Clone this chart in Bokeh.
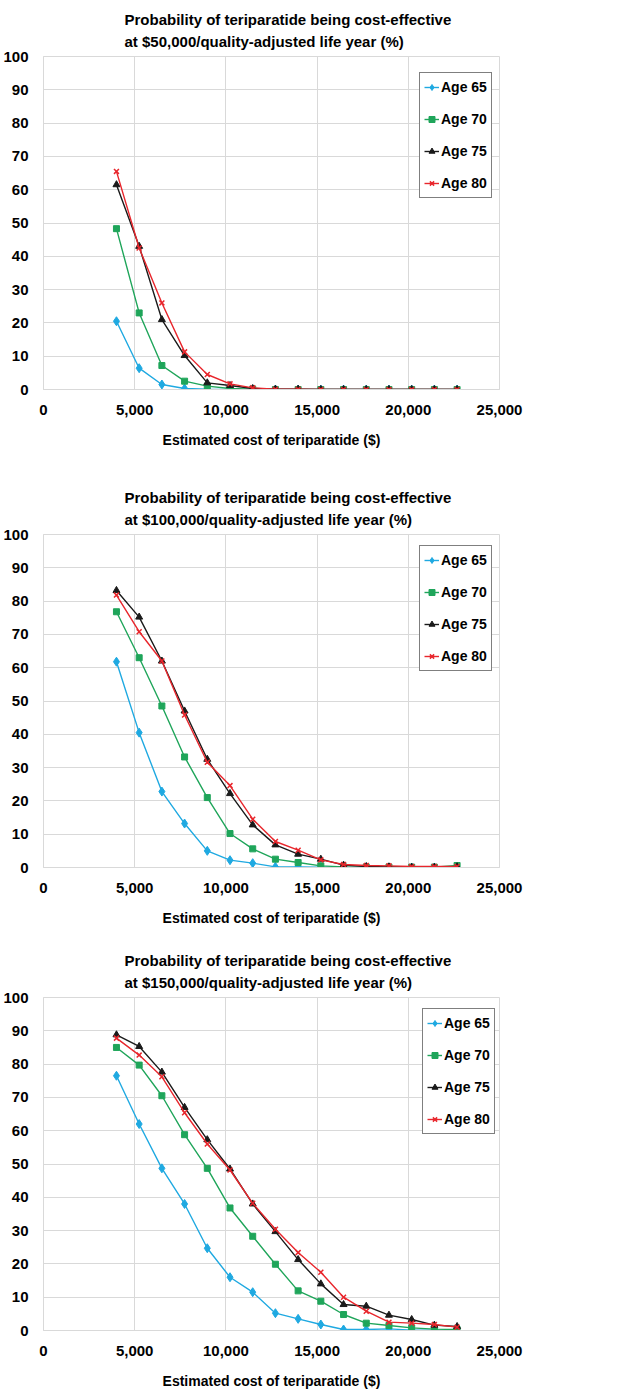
from bokeh.plotting import figure
from bokeh.layouts import column
from bokeh.models import (Title, Legend, LegendItem, NumeralTickFormatter,
                          SingleIntervalTicker, Range1d)
from bokeh.embed import file_html
from bokeh.resources import INLINE

# ---------------- data ----------------
cost = [4000, 5245, 6490, 7735, 8980, 10225, 11470, 12715, 13960, 15205,
        16450, 17695, 18940, 20185, 21430, 22675]
age_labels = ["Age 65", "Age 70", "Age 75", "Age 80"]
thresholds = ["$50,000", "$100,000", "$150,000"]

wtp50_age65 = [20.5, 6.4, 1.5, 0.3, 0.1, 0.0, 0.0, 0.0, 0.0, 0.0, 0.0, 0.0, 0.0, 0.0, 0.0, 0.0]
wtp50_age70 = [48.3, 23.0, 7.2, 2.5, 1.0, 0.3, 0.1, 0.0, 0.0, 0.0, 0.0, 0.0, 0.0, 0.0, 0.0, 0.0]
wtp50_age75 = [61.5, 43.0, 21.0, 10.2, 2.0, 1.2, 0.3, 0.1, 0.1, 0.0, 0.0, 0.0, 0.0, 0.0, 0.0, 0.0]
wtp50_age80 = [65.5, 42.5, 26.0, 11.3, 4.5, 1.7, 0.5, 0.1, 0.1, 0.0, 0.0, 0.0, 0.0, 0.0, 0.0, 0.0]

wtp100_age65 = [61.8, 40.5, 22.8, 13.2, 5.0, 2.2, 1.3, 0.2, 0.2, 0.1, 0.0, 0.0, 0.0, 0.0, 0.0, 0.0]
wtp100_age70 = [76.8, 63.0, 48.5, 33.2, 21.0, 10.2, 5.6, 2.5, 1.5, 0.5, 0.2, 0.1, 0.1, 0.1, 0.1, 0.6]
wtp100_age75 = [83.2, 75.2, 62.0, 47.0, 32.5, 22.2, 12.8, 6.8, 4.0, 2.5, 0.7, 0.3, 0.2, 0.1, 0.1, 0.2]
wtp100_age80 = [81.8, 70.8, 62.0, 45.8, 31.6, 24.6, 14.5, 7.8, 5.2, 2.3, 0.9, 0.6, 0.5, 0.3, 0.3, 0.3]

wtp150_age65 = [76.5, 62.0, 48.7, 38.0, 24.7, 16.0, 11.5, 5.2, 3.5, 1.8, 0.3, 0.3, 0.5, 0.1, 0.1, 0.1]
wtp150_age70 = [85.0, 79.7, 70.5, 58.8, 48.7, 36.8, 28.3, 19.9, 11.9, 8.8, 4.8, 2.2, 1.5, 0.8, 0.4, 0.3]
wtp150_age75 = [88.8, 85.3, 77.6, 67.0, 57.3, 48.5, 38.0, 29.7, 21.3, 14.0, 7.8, 7.3, 4.6, 3.3, 1.6, 1.2]
wtp150_age80 = [87.8, 82.7, 76.2, 65.4, 56.0, 48.2, 38.2, 30.4, 23.4, 17.5, 10.0, 5.8, 2.5, 2.2, 1.8, 1.0]

# ---------------- styling ----------------
FONT = "Liberation Sans"
colors = ["#1fa9e1", "#1fa55a", "#1a1a1a", "#e8262c"]
markers = ["diamond", "square", "triangle", "x"]
msizes = [9, 6, 7, 7]
GRID = "#d9d9d9"


def make_panel(threshold, series, top, bottom, legend_y, legend_x):
    p = figure(frame_width=456, frame_height=333,
               x_range=Range1d(0, 25000), y_range=Range1d(0, 100),
               output_backend="svg", toolbar_location=None,
               min_border_left=35, min_border_right=40,
               min_border_top=top, min_border_bottom=bottom)
    p.outline_line_color = GRID
    p.background_fill_color = "white"
    p.border_fill_color = "white"

    title = Title(text="Probability of teriparatide being cost-effective\n"
                       "at " + threshold + "/quality-adjusted life year (%)",
                  align="left", offset=81, text_font=FONT, text_font_size="15px",
                  text_font_style="bold", text_color="black", standoff=12,
                  text_line_height=1.35)
    p.add_layout(title, "above")

    p.xaxis.ticker = SingleIntervalTicker(interval=5000)
    p.yaxis.ticker = SingleIntervalTicker(interval=10)
    p.xaxis.formatter = NumeralTickFormatter(format="0,0")
    for ax in (p.xaxis, p.yaxis):
        ax.major_label_text_font = FONT
        ax.major_label_text_font_size = "15px"
        ax.major_label_text_font_style = "bold"
        ax.major_label_text_color = "black"
        ax.major_tick_line_color = None
        ax.minor_tick_line_color = None
        ax.axis_line_color = GRID
        ax.major_label_standoff = 9
    p.xaxis.axis_label = "Estimated cost of teriparatide ($)"
    p.xaxis.axis_label_text_font = FONT
    p.xaxis.axis_label_text_font_size = "14px"
    p.xaxis.axis_label_text_font_style = "bold"
    p.xaxis.axis_label_text_color = "black"
    p.xaxis.axis_label_standoff = 14

    p.xgrid.grid_line_color = GRID
    p.ygrid.grid_line_color = GRID
    p.xgrid.ticker = SingleIntervalTicker(interval=5000)
    p.ygrid.ticker = SingleIntervalTicker(interval=10)

    items = []
    for lab, ys, c, m, s in zip(age_labels, series, colors, markers, msizes):
        lr = p.line(cost, ys, line_color=c, line_width=1.4)
        if m == "x":
            sr = p.scatter(cost, ys, marker=m, size=s, line_color=c, line_width=1.5)
        else:
            sr = p.scatter(cost, ys, marker=m, size=s, fill_color=c, line_color=c)
        items.append(LegendItem(label=lab, renderers=[lr, sr]))

    legend = Legend(items=items, location=(legend_x, legend_y),
                    label_text_font=FONT, label_text_font_size="14px",
                    label_text_font_style="bold", label_text_color="black",
                    border_line_color="black", border_line_width=1.5,
                    background_fill_color="white", background_fill_alpha=1,
                    glyph_width=15, glyph_height=20, label_height=20,
                    label_standoff=2, spacing=12, padding=4, margin=0)
    p.add_layout(legend)
    return p


p1 = make_panel(thresholds[0], [wtp50_age65, wtp50_age70, wtp50_age75, wtp50_age80],
                56, 87, 191, 376)
p2 = make_panel(thresholds[1], [wtp100_age65, wtp100_age70, wtp100_age75, wtp100_age80],
                58, 72, 196, 376)
p3 = make_panel(thresholds[2], [wtp150_age65, wtp150_age70, wtp150_age75, wtp150_age80],
                58, 55, 196, 379)

layout = column(p1, p2, p3, spacing=0)
open("out.html", "w").write(file_html(layout, INLINE))
